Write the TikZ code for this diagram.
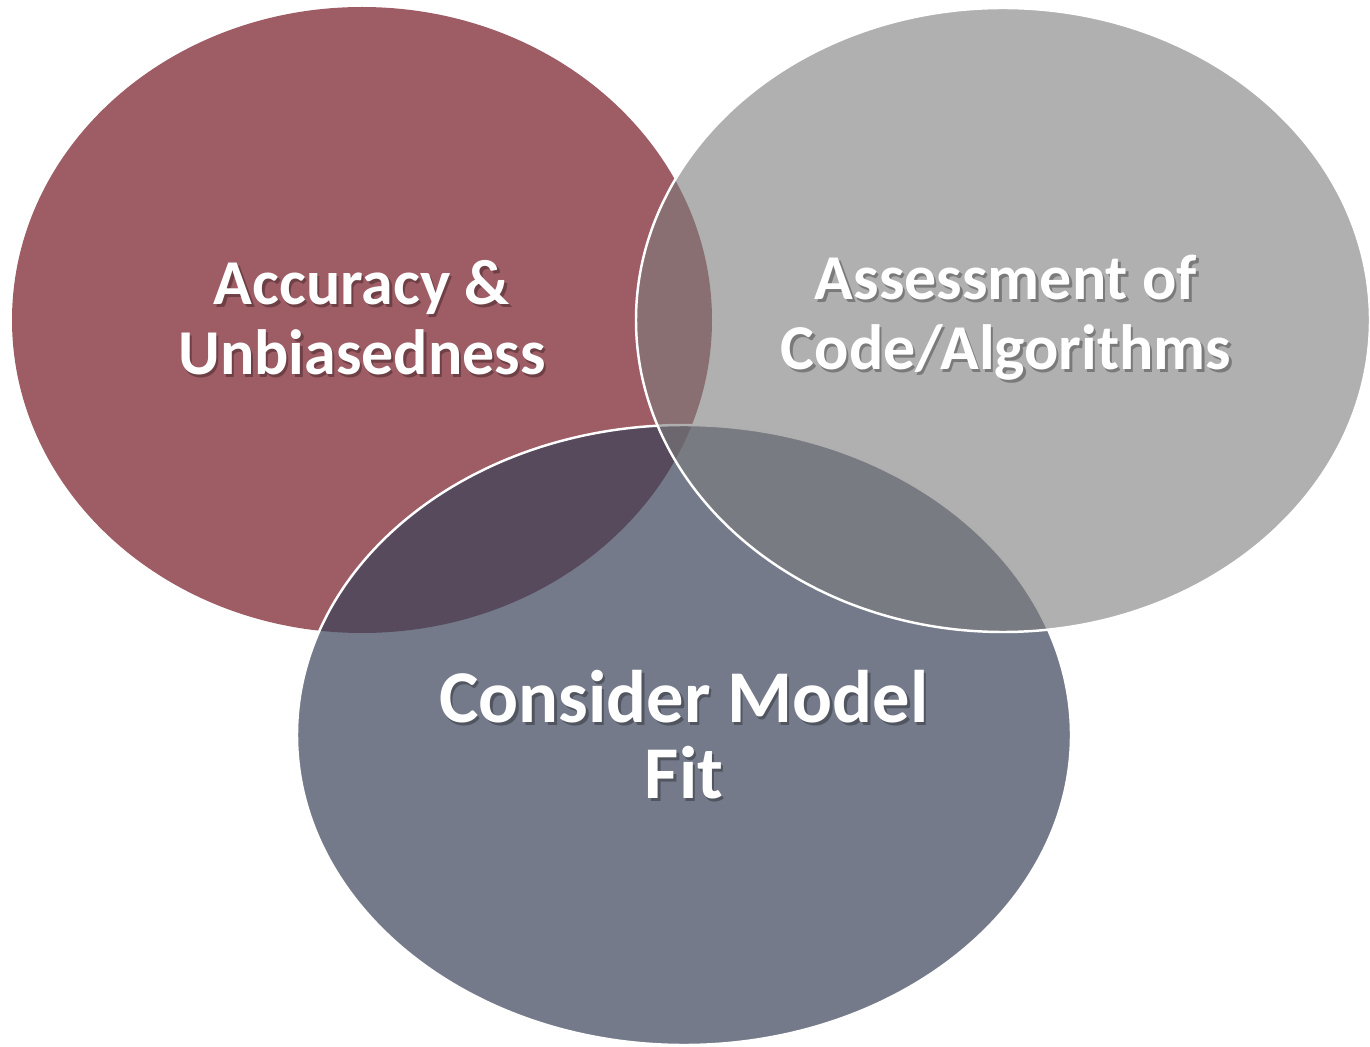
\documentclass[tikz,border=0pt]{standalone}
\usepackage{fontspec}
\setmainfont{Carlito}
\usepackage{xcolor}
\usepackage{tikz}
\usetikzlibrary{positioning}
\definecolor{cvino}{HTML}{9E5C65}
\definecolor{cpizarra}{HTML}{3B445A}
\definecolor{cgris}{HTML}{7B7B7B}
\tikzset{
  rojo/.style={fill=cvino},
  pizarra/.style={fill=cpizarra, fill opacity=0.71, draw=white, line width=1.4pt},
  gris/.style={fill=cgris, fill opacity=0.6, draw=white, line width=1.4pt},
  etq/.style={align=center, text=white, font=\bfseries\fontsize{36.4}{39.8}\selectfont},
  etqg/.style={align=center, text=white, font=\bfseries\fontsize{42.4}{43.2}\selectfont},
  sombra/.style={text=black, text opacity=0.3, xshift=1.3pt, yshift=-1.3pt},
}

\begin{document}
\begin{tikzpicture}[x=0.02cm, y=-0.02cm]
  \useasboundingbox (0,0) rectangle (1370,1047);
  % los tres conjuntos
  \path[rojo]     (362,320) ellipse [x radius=350, y radius=313];
  \path[pizarra]  (684,735) ellipse [x radius=387, y radius=310];
  \path[gris]     (1003,320) ellipse [x radius=367, y radius=312];
  % textos con sombra
  \node[etq, sombra] (acc-s) at (362,318) {Accuracy \&\\Unbiasedness};
  \node[etq] (acc) at (362,318) {Accuracy \&\\Unbiasedness};
  \node[etq, sombra] (cod-s) at (1006,318) {Assessment of\\Code/Algorithms};
  \node[etq] (cod) at (1006,318) {Assessment of\\Code/Algorithms};
  \node[etqg, sombra] (fit-s) at (684,735) {Consider Model\\Fit};
  \node[etqg] (fit) at (684,735) {Consider Model\\Fit};
\end{tikzpicture}
\end{document}
